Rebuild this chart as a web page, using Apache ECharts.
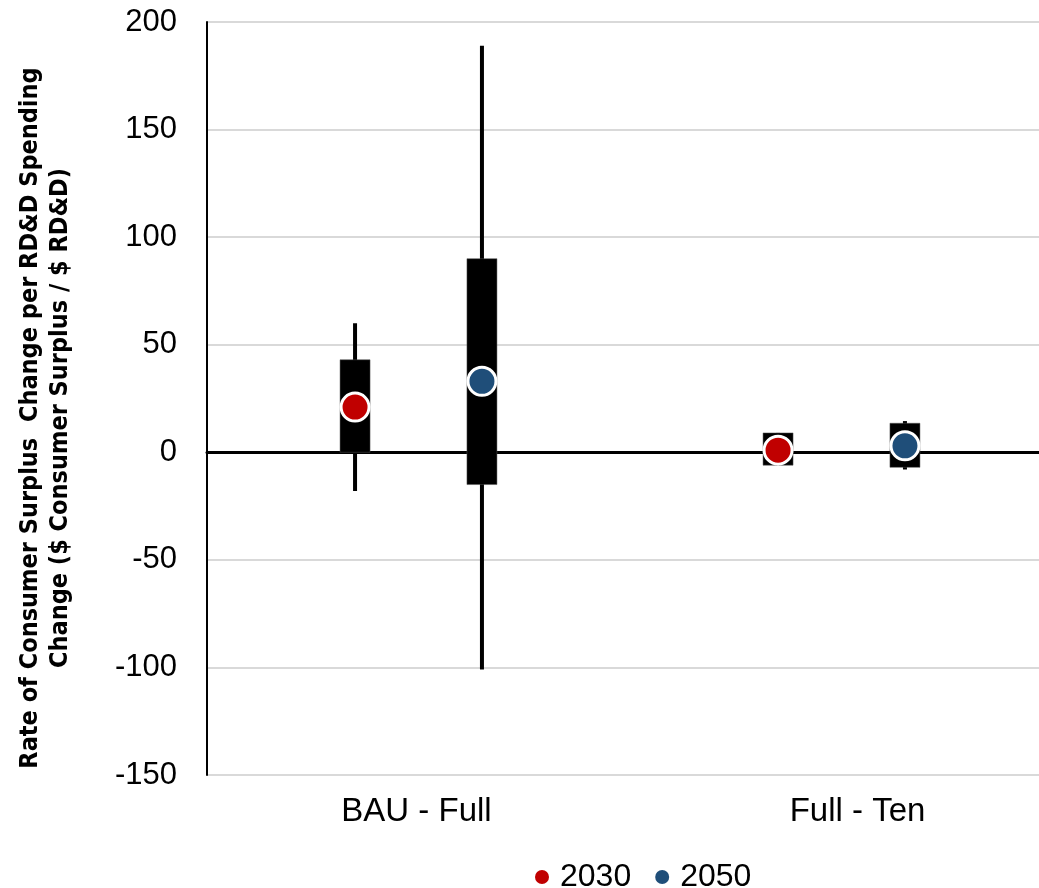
<!DOCTYPE html>
<html>
<head>
<meta charset="utf-8">
<script src="https://cdn.jsdelivr.net/npm/echarts@6/dist/echarts.min.js"></script>
<style>html,body{margin:0;padding:0;background:#fff;overflow:hidden}#c{width:1053px;height:888px}</style>
</head>
<body>
<div id="c"></div>
<script>
const categories = ['BAU - Full', 'Full - Ten'];
const yTicks = [-150, -100, -50, 0, 50, 100, 150, 200];
// 2030 series
const low2030 = [-18, -6];
const q1_2030 = [0, -6];
const q3_2030 = [43, 9];
const high2030 = [60, 9];
const point2030 = [21, 1];
// 2050 series
const low2050 = [-101, -8];
const q1_2050 = [-15, -7];
const q3_2050 = [90, 13.5];
const high2050 = [189, 14.5];
const point2050 = [33, 3];

const axisFont = 'Liberation Sans, Arial, sans-serif';

function rows(low, q1, q3, high, pt) {
  return categories.map((c, i) => [i, low[i], q1[i], q3[i], high[i], pt[i]]);
}

function makeRender(offsetFrac, color) {
  return function (params, api) {
    const i = api.value(0);
    const band = api.size([1, 0])[0];
    const x = api.coord([i, 0])[0] + band * offsetFrac;
    const yLow = api.coord([i, api.value(1)])[1];
    const yQ1 = api.coord([i, api.value(2)])[1];
    const yQ3 = api.coord([i, api.value(3)])[1];
    const yHigh = api.coord([i, api.value(4)])[1];
    const yPt = api.coord([i, api.value(5)])[1];
    const bw = 30;
    return {
      type: 'group',
      children: [
        { type: 'line', shape: { x1: x, y1: yHigh, x2: x, y2: yLow }, style: { stroke: '#000', lineWidth: 4 } },
        { type: 'rect', shape: { x: x - bw / 2, y: Math.min(yQ1, yQ3), width: bw, height: Math.abs(yQ1 - yQ3) }, style: { fill: '#000', stroke: '#555', lineWidth: 0.5 } },
        { type: 'circle', shape: { cx: x, cy: yPt, r: 14 }, style: { fill: color, stroke: '#fff', lineWidth: 3 } }
      ]
    };
  };
}

const chart = echarts.init(document.getElementById('c'), null, { renderer: 'canvas' });
chart.setOption({
  animation: false,
  backgroundColor: '#fff',
  grid: { left: 207, top: 22, right: 0, height: 753, containLabel: false },
  legend: {
    left: 530, top: 856,
    itemWidth: 14, itemHeight: 14, itemGap: 24,
    icon: 'circle',
    textStyle: { fontFamily: axisFont, fontSize: 32, color: '#000', padding: [0, 0, 0, 6] },
    data: ['2030', '2050']
  },
  xAxis: [
    {
      type: 'category', data: categories,
      axisLine: { show: true, onZero: true, lineStyle: { color: '#000', width: 3 } },
      axisTick: { show: false }, axisLabel: { show: false }, splitLine: { show: false }
    },
    {
      type: 'category', data: categories, position: 'bottom',
      axisLine: { show: false, onZero: false }, axisTick: { show: false },
      axisLabel: {
        fontFamily: axisFont, fontSize: 33, color: '#000', margin: 20,
        formatter: function (v, idx) { return idx === 1 ? '{r|' + v + '}' : '{l|' + v + '}'; },
        rich: {
          l: { fontFamily: axisFont, fontSize: 33, color: '#000', padding: [0, 4, 0, 0] },
          r: { fontFamily: axisFont, fontSize: 33, color: '#000', padding: [0, 0, 0, 32] }
        }
      },
      splitLine: { show: false }
    }
  ],
  yAxis: {
    type: 'value', min: yTicks[0], max: yTicks[yTicks.length - 1], interval: 50,
    axisLine: { show: true, lineStyle: { color: '#000', width: 2 } },
    axisTick: { show: false },
    axisLabel: { fontFamily: axisFont, fontSize: 31, color: '#000', margin: 30 },
    splitLine: { show: true, lineStyle: { color: '#d9d9d9', width: 2 } }
  },
  graphic: [{
    type: 'text', x: 45, y: 418, rotation: Math.PI / 2,
    style: {
      text: 'Rate of Consumer Surplus  Change per RD&D Spending\nChange ($ Consumer Surplus / $ RD&D)',
      fontFamily: 'Liberation Sans Narrow, Arial Narrow, DejaVu Sans Condensed, sans-serif',
      fontWeight: 'bold', fontSize: 25, lineHeight: 30, fill: '#000',
      align: 'center', verticalAlign: 'middle'
    }
  }],
  series: [
    {
      name: '2030', type: 'custom', xAxisIndex: 0, z: 3,
      itemStyle: { color: '#C00000' },
      renderItem: makeRender(-0.15, '#C00000'),
      data: rows(low2030, q1_2030, q3_2030, high2030, point2030)
    },
    {
      name: '2050', type: 'custom', xAxisIndex: 0, z: 3,
      itemStyle: { color: '#1F4E79' },
      renderItem: makeRender(0.15, '#1F4E79'),
      data: rows(low2050, q1_2050, q3_2050, high2050, point2050)
    }
  ]
});
</script>
</body>
</html>
